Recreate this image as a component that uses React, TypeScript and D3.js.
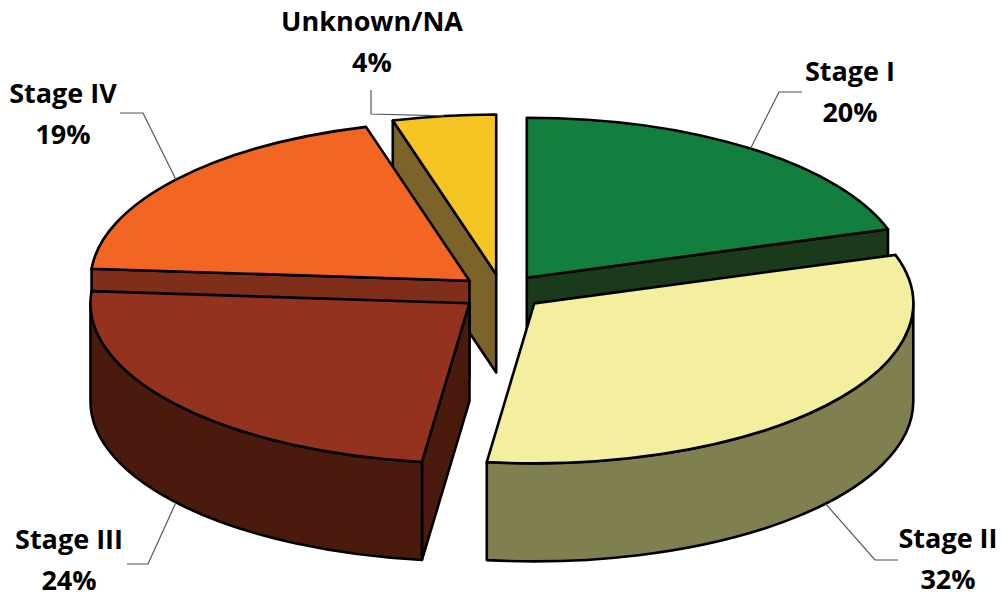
import { useMemo } from "react";
import * as d3 from "d3";

const categories = ["Stage I", "Stage II", "Stage III", "Stage IV", "Unknown/NA"];
const shares = [20.1, 31.9, 24.2, 19.4, 4.4];
const topColors = ["#137F3F", "#F3EF9F", "#93321E", "#F26522", "#F5C523"];
const sideColors = ["#1B3A1B", "#7F7F4F", "#4A1B0C", "#7F2F19", "#7C632A"];

const W = 1003;
const H = 599;

// label layout: text centre, first baseline, elbow and end of the leader
const labelLayout = [
  { x: 850, y: 81, elbow: [779, 92], end: [802, 92] },
  { x: 948, y: 548, elbow: [875, 560], end: [898, 560] },
  { x: 69, y: 549, elbow: [148, 564], end: [127, 564] },
  { x: 63, y: 103, elbow: [143, 113], end: [120, 113] },
  { x: 372, y: 31, elbow: [371, 114], end: [371, 90] },
];

const App = () => {
  const cx = 502;
  const cy = 292;
  const rx = 379;
  const ry = 160;
  const depth = 98;
  const explode = 42 / 379;

  const slices = useMemo(() => {
    const pie = d3
      .pie<number>()
      .sort(null)
      .startAngle(0)
      .endAngle(2 * Math.PI)
      .value((d) => d);
    return pie(shares).map((s, i) => {
      const mid = (s.startAngle + s.endAngle) / 2;
      const vx = cx + explode * rx * Math.sin(mid);
      const vy = cy - explode * ry * Math.cos(mid);
      return { ...s, i, mid, vx, vy };
    });
  }, []);

  const pt = (vx: number, vy: number, t: number, dy = 0) =>
    [vx + rx * Math.sin(t), vy - ry * Math.cos(t) + dy] as [number, number];

  const topPath = (s: any) => {
    const a = pt(s.vx, s.vy, s.startAngle);
    const b = pt(s.vx, s.vy, s.endAngle);
    const large = s.endAngle - s.startAngle > Math.PI ? 1 : 0;
    return `M${s.vx},${s.vy}L${a[0]},${a[1]}A${rx},${ry} 0 ${large} 1 ${b[0]},${b[1]}Z`;
  };

  const radialPath = (s: any, t: number) => {
    const p = pt(s.vx, s.vy, t);
    return `M${s.vx},${s.vy}L${p[0]},${p[1]}L${p[0]},${p[1] + depth}L${s.vx},${s.vy + depth}Z`;
  };

  const outerPath = (s: any) => {
    const a0 = Math.max(s.startAngle, Math.PI / 2);
    const a1 = Math.min(s.endAngle, (3 * Math.PI) / 2);
    if (a1 <= a0) return null;
    const p0 = pt(s.vx, s.vy, a0);
    const p1 = pt(s.vx, s.vy, a1);
    return (
      `M${p0[0]},${p0[1]}A${rx},${ry} 0 0 1 ${p1[0]},${p1[1]}` +
      `L${p1[0]},${p1[1] + depth}A${rx},${ry} 0 0 0 ${p0[0]},${p0[1] + depth}Z`
    );
  };

  const order = [...slices].sort((a, b) => a.vy - b.vy);

  return (
    <svg
      width={W}
      height={H}
      style={{ position: "absolute", left: 0, top: 0, background: "#fff" }}
    >
      {order.map((s) => {
        const faces: JSX.Element[] = [];
        // start face visible when sin(start) < 0, end face when sin(end) > 0
        if (Math.sin(s.startAngle) < -1e-6)
          faces.push(
            <path key="rs" d={radialPath(s, s.startAngle)} fill={sideColors[s.i]} />
          );
        if (Math.sin(s.endAngle) > 1e-6)
          faces.push(
            <path key="re" d={radialPath(s, s.endAngle)} fill={sideColors[s.i]} />
          );
        const o = outerPath(s);
        if (o) faces.push(<path key="o" d={o} fill={sideColors[s.i]} />);
        faces.push(<path key="t" d={topPath(s)} fill={topColors[s.i]} />);
        return (
          <g key={s.i} stroke="#000" strokeWidth={2.6} strokeLinejoin="round">
            {faces}
          </g>
        );
      })}

      {slices.map((s) => {
        const lay = labelLayout[s.i];
        const front = Math.cos(s.mid) < 0;
        const rim = pt(s.vx, s.vy, s.mid, front ? depth : 0);
        return (
          <g key={"l" + s.i}>
            <polyline
              points={`${rim[0]},${rim[1]} ${lay.elbow[0]},${lay.elbow[1]} ${lay.end[0]},${lay.end[1]}`}
              fill="none"
              stroke="#555"
              strokeWidth={1.2}
            />
            <text
              x={lay.x}
              y={lay.y}
              textAnchor="middle"
              fontFamily="'Open Sans', Lato, sans-serif"
              fontWeight="bold"
              fontSize={27}
              fill="#000"
            >
              <tspan x={lay.x}>{categories[s.i]}</tspan>
              <tspan x={lay.x} dy={41}>
                {Math.round(shares[s.i])}%
              </tspan>
            </text>
          </g>
        );
      })}
    </svg>
  );
};

export default App;
